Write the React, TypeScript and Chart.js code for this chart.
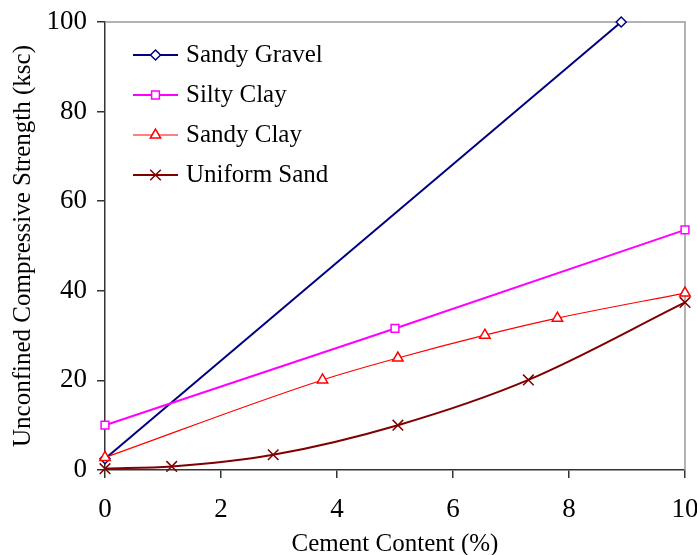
import React, { useEffect, useRef } from "react";
import { Chart, registerables } from "chart.js";

Chart.register(...registerables);

const seriesNames = ["Sandy Gravel", "Silty Clay", "Sandy Clay", "Uniform Sand"];
const sandyGravelX = [0, 8.9];
const sandyGravelY = [2.5, 100];
const siltyClayX = [0, 5, 10];
const siltyClayY = [10, 31.6, 53.6];
const sandyClayX = [0, 3.75, 5.05, 6.55, 7.8, 10];
const sandyClayY = [2.8, 20.1, 25, 30.1, 33.9, 39.5];
const uniformSandX = [0, 1.15, 2.9, 5.05, 7.3, 10];
const uniformSandY = [0.3, 0.8, 3.4, 10, 20.1, 37.4];
const xTicks = [0, 2, 4, 6, 8, 10];
const yTicks = [0, 20, 40, 60, 80, 100];
const xTitle = "Cement Content (%)";
const yTitle = "Unconfined Compressive Strength (ksc)";

const FONT = "'Liberation Serif', 'Times New Roman', serif";

const toPoints = (xs: number[], ys: number[]) => xs.map((x, i) => ({ x, y: ys[i] }));

function drawMarker(ctx: CanvasRenderingContext2D, style: string, x: number, y: number, r: number, color: string, bw: number) {
  ctx.save();
  ctx.strokeStyle = color;
  ctx.fillStyle = "#ffffff";
  ctx.lineWidth = bw;
  ctx.beginPath();
  if (style === "rectRot") {
    ctx.moveTo(x, y - r);
    ctx.lineTo(x + r, y);
    ctx.lineTo(x, y + r);
    ctx.lineTo(x - r, y);
    ctx.closePath();
    ctx.fill();
    ctx.stroke();
  } else if (style === "rect") {
    const h = r * Math.SQRT1_2;
    ctx.rect(x - h, y - h, 2 * h, 2 * h);
    ctx.fill();
    ctx.stroke();
  } else if (style === "triangle") {
    for (let k = 0; k < 3; k++) {
      const a = -Math.PI / 2 + (k * 2 * Math.PI) / 3;
      const px = x + Math.cos(a) * r;
      const py = y + Math.sin(a) * r;
      if (k === 0) ctx.moveTo(px, py);
      else ctx.lineTo(px, py);
    }
    ctx.closePath();
    ctx.fill();
    ctx.stroke();
  } else if (style === "crossRot") {
    const h = r * Math.SQRT1_2;
    ctx.moveTo(x - h, y - h);
    ctx.lineTo(x + h, y + h);
    ctx.moveTo(x + h, y - h);
    ctx.lineTo(x - h, y + h);
    ctx.stroke();
  }
  ctx.restore();
}

const framePlugin = {
  id: "frame",
  beforeDatasetsDraw(chart: any) {
    const { ctx, chartArea } = chart;
    ctx.save();
    ctx.strokeStyle = "#9a9a9a";
    ctx.lineWidth = 1.5;
    ctx.beginPath();
    ctx.moveTo(chartArea.left, chartArea.top);
    ctx.lineTo(chartArea.right, chartArea.top);
    ctx.lineTo(chartArea.right, chartArea.bottom);
    ctx.stroke();
    ctx.restore();
  },
};

const legendPlugin = {
  id: "customLegend",
  afterDraw(chart: any) {
    const { ctx } = chart;
    chart.data.datasets.forEach((ds: any, i: number) => {
      const y = 55 + 40 * i;
      ctx.save();
      ctx.strokeStyle = ds.borderColor;
      ctx.lineWidth = ds.borderWidth;
      ctx.beginPath();
      ctx.moveTo(133, y);
      ctx.lineTo(178, y);
      ctx.stroke();
      ctx.restore();
      drawMarker(ctx, ds.pointStyle, 155.5, y, ds.pointRadius, ds.pointBorderColor, ds.pointBorderWidth);
      ctx.save();
      ctx.fillStyle = "#000";
      ctx.font = `25px ${FONT}`;
      ctx.textBaseline = "middle";
      ctx.textAlign = "left";
      ctx.fillText(ds.label, 186, y);
      ctx.restore();
    });
  },
};

export default function App() {
  const ref = useRef<HTMLCanvasElement | null>(null);

  useEffect(() => {
    if (!ref.current) return;
    const mk = (i: number, xs: number[], ys: number[], color: string, width: number, style: string, r: number, cubic: boolean) => ({
      label: seriesNames[i],
      data: toPoints(xs, ys),
      order: 4 - i,
      borderColor: color,
      backgroundColor: "#ffffff",
      borderWidth: width,
      pointStyle: style,
      pointRadius: r,
      pointBorderColor: color,
      pointBackgroundColor: "#ffffff",
      pointBorderWidth: 1.5,
      cubicInterpolationMode: cubic ? "monotone" : "default",
      tension: 0,
      clip: false,
      showLine: true,
      fill: false,
    });

    const chart = new Chart(ref.current, {
      type: "scatter",
      data: {
        datasets: [
          mk(0, sandyGravelX, sandyGravelY, "#000080", 2, "rectRot", 5, false),
          mk(1, siltyClayX, siltyClayY, "#ff00ff", 2, "rect", 5.5, false),
          mk(2, sandyClayX, sandyClayY, "#ff0000", 1.2, "triangle", 6, true),
          mk(3, uniformSandX, uniformSandY, "#800000", 2, "crossRot", 7.5, true),
        ] as any,
      },
      options: {
        responsive: false,
        animation: false,
        devicePixelRatio: 1,
        layout: { padding: { left: 0, top: 22, right: 12, bottom: 0 } },
        plugins: {
          legend: { display: false },
          tooltip: { enabled: false },
        },
        scales: {
          x: {
            type: "linear",
            min: 0,
            max: 10,
            afterFit(scale: any) {
              scale.height = 85;
              scale.paddingLeft = 0;
              scale.paddingRight = 0;
            },
            afterBuildTicks(scale: any) {
              scale.ticks = xTicks.map((v) => ({ value: v }));
            },
            border: { display: true, color: "#333333", width: 1.5 },
            grid: { display: true, drawOnChartArea: false, drawTicks: true, tickLength: 8, color: "#333333", lineWidth: 1.5 },
            ticks: {
              color: "#000",
              font: { family: FONT, size: 27 },
              padding: 16,
              maxRotation: 0,
            },
            title: {
              display: true,
              text: xTitle,
              color: "#000",
              font: { family: FONT, size: 25 },
              padding: { top: 0, bottom: -4 },
            },
          },
          y: {
            type: "linear",
            min: 0,
            max: 100,
            afterFit(scale: any) {
              scale.width = 105;
              scale.paddingTop = 0;
              scale.paddingBottom = 0;
            },
            afterBuildTicks(scale: any) {
              scale.ticks = yTicks.map((v) => ({ value: v }));
            },
            border: { display: true, color: "#333333", width: 1.5 },
            grid: { display: true, drawOnChartArea: false, drawTicks: true, tickLength: 8, color: "#333333", lineWidth: 1.5 },
            ticks: {
              color: "#000",
              font: { family: FONT, size: 27 },
              padding: 10,
            },
            title: {
              display: true,
              text: yTitle,
              color: "#000",
              font: { family: FONT, size: 25 },
              padding: 8,
            },
          },
        },
      } as any,
      plugins: [framePlugin, legendPlugin],
    });
    return () => chart.destroy();
  }, []);

  return (
    <div style={{ position: "absolute", left: 0, top: 0, width: 697, height: 555, background: "#fff" }}>
      <canvas ref={ref} width={697} height={555} style={{ display: "block", width: 697, height: 555 }} />
    </div>
  );
}
